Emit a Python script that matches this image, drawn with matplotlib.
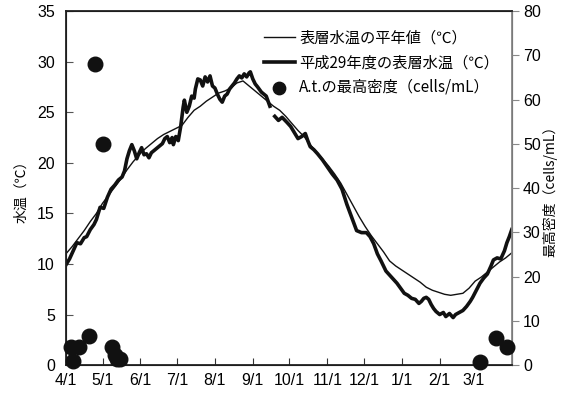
import numpy as np
import matplotlib
matplotlib.use("Agg")
import matplotlib.pyplot as plt

plt.rcParams['font.family'] = ['Liberation Sans', 'Noto Sans CJK JP']
JP = ['Noto Sans CJK JP', 'DejaVu Sans']

# days counted from 4/1
month_days = [0, 30, 61, 91, 122, 153, 183, 214, 244, 275, 306, 334]
month_labels = ['4/1', '5/1', '6/1', '7/1', '8/1', '9/1', '10/1', '11/1', '12/1', '1/1', '2/1', '3/1']

# normal-year surface water temperature
avg_day = [0, 5, 10, 15, 20, 25, 30, 35, 40, 45, 50, 55, 60, 65, 70, 75, 80, 85, 90, 95,
           100, 105, 110, 115, 120, 125, 130, 135, 140, 145, 150, 155, 160, 165, 170, 175,
           180, 185, 190, 195, 200, 205, 210, 215, 220, 225, 230, 235, 240, 245, 250, 255,
           260, 265, 270, 275, 280, 285, 290, 295, 300, 305, 310, 315, 320, 325, 330, 335,
           340, 345, 350, 355, 360, 365]
avg_temp = [11.0, 11.7, 12.5, 13.3, 14.2, 15.0, 16.0, 16.8, 17.6, 18.4, 19.3, 20.1, 20.8,
            21.4, 21.9, 22.4, 22.8, 23.1, 23.4, 23.7, 24.5, 25.2, 25.6, 26.1, 26.5, 26.9,
            27.1, 27.4, 27.9, 28.1, 27.6, 27.1, 26.6, 26.1, 25.6, 25.2, 24.6, 23.9, 23.2,
            22.6, 21.8, 21.1, 20.4, 19.7, 18.9, 18.0, 16.9, 15.8, 14.7, 13.7, 12.8, 12.0,
            11.2, 10.3, 9.8, 9.4, 9.0, 8.6, 8.2, 7.7, 7.4, 7.2, 7.0, 6.9, 7.0, 7.1, 7.6,
            8.3, 8.7, 9.2, 9.7, 10.2, 10.6, 11.1]

# H29 surface water temperature (gap = missing data)
h29_day = [0, 3, 6, 9, 12, 15, 17, 20, 23, 25, 28, 31, 34, 37, 40, 43, 46, 48, 50, 52, 54,
           56, 58, 60, 62, 64, 66, 68, 70, 73, 76, 79, 81, 83, 85, 87, 88, 90, 92, 94, 96,
           97, 99, 101, 103, 105, 106, 108, 110, 112, 114, 116, 118, 120, 122, 124, 126,
           128, 130, 132, 134, 136, 138, 140, 142, 144, 146, 148, 150, 151, 153, 155, 157,
           160, 164, 167, 169, 171, 174, 177, 181, 184, 187, 190, 193, 196, 198, 200, 203,
           206, 210, 214, 218, 222, 226, 230, 234, 238, 242, 246, 249, 252, 255, 258, 262,
           265, 268, 271, 274, 277, 280, 283, 286, 289, 291, 293, 295, 297, 299, 301, 303,
           306, 309, 311, 314, 317, 319, 322, 325, 328, 331, 333, 336, 339, 342, 345, 348,
           350, 353, 356, 359, 361, 363, 365]
h29_temp = [9.9, 10.5, 11.3, 12.1, 12.0, 12.6, 12.7, 13.4, 13.9, 14.4, 15.6, 15.5, 16.6,
            17.4, 17.8, 18.3, 18.6, 19.2, 20.4, 21.2, 21.8, 21.2, 20.4, 21.0, 21.5, 20.8,
            20.9, 20.5, 21.0, 21.3, 21.6, 21.9, 22.4, 22.6, 22.0, 22.5, 21.8, 22.6, 22.2,
            23.6, 25.5, 26.2, 25.0, 25.6, 26.6, 26.4, 27.3, 28.3, 28.2, 27.6, 28.5, 28.0,
            28.6, 27.6, 27.4, 26.8, 26.3, 26.0, 26.6, 26.8, 27.3, 27.6, 27.9, 28.3, 28.6,
            28.4, 28.8, 28.5, 28.9, 29.0, 28.3, 27.8, 27.5, 27.0, 26.6, 25.6, np.nan, 24.6,
            24.2, 24.5, 24.0, 23.6, 23.0, 22.4, 22.6, 22.9, 22.2, 21.6, 21.3, 20.9, 20.3,
            19.6, 18.9, 18.3, 17.4, 15.9, 14.6, 13.3, 13.1, 13.1, 12.7, 12.0, 11.0, 10.3,
            9.3, 8.9, 8.5, 8.1, 7.6, 7.1, 6.9, 6.6, 6.5, 6.1, 6.3, 6.6, 6.7, 6.5, 6.0, 5.6,
            5.3, 5.0, 5.2, 4.8, 5.1, 4.7, 5.0, 5.2, 5.4, 5.8, 6.3, 6.7, 7.4, 8.1, 8.6, 9.0,
            9.8, 10.4, 10.6, 10.5, 11.3, 12.1, 12.7, 13.4]

# maximum A.t. density (cells/mL)
at_day = [4, 6, 11, 19, 24, 30, 38, 40, 42, 44, 339, 352, 361]
at_density = [4, 1, 4, 6.5, 68, 50, 4, 2.3, 1.4, 1.4, 0.7, 6.1, 4.1]

fig, ax = plt.subplots(figsize=(5.63, 3.99), dpi=100)
fig.subplots_adjust(left=0.117, right=0.909, bottom=0.085, top=0.972)
ax2 = ax.twinx()

l1, = ax.plot(avg_day, avg_temp, color='#111111', lw=1.0, label='表層水温の平年値（℃）')
l2, = ax.plot(h29_day, h29_temp, color='#111111', lw=2.6, label='平成29年度の表層水温（℃）')
sc = ax2.scatter(at_day, at_density, s=110, color='#111111', clip_on=False, zorder=5,
                 label='A.t.の最高密度（cells/mL）')

ax.set_xlim(0, 365)
ax.set_ylim(0, 35)
ax2.set_ylim(0, 80)
ax.set_xticks(month_days)
ax.set_xticklabels(month_labels)
ax.set_yticks(range(0, 36, 5))
ax2.set_yticks(range(0, 81, 10))

ax.tick_params(axis='x', direction='in', length=5, labelsize=11.5, pad=6, color='#333333')
ax.tick_params(axis='y', direction='in', length=5, labelsize=11.5, pad=8, color='#555555')
ax2.tick_params(axis='y', direction='out', length=5, labelsize=11.5, pad=3, color='#888888')

for s in ['left', 'top', 'bottom']:
    ax2.spines[s].set_color('#222222')
    ax2.spines[s].set_linewidth(1.3)
ax2.spines['right'].set_color('#888888')
ax2.spines['right'].set_linewidth(1.3)

ax.set_ylabel('水温（℃）', family=JP, fontsize=10, labelpad=6)
ax2.set_ylabel('最高密度（cells/mL）', family=JP, fontsize=10, labelpad=1)

leg = ax2.legend([l1, l2, sc], [l1.get_label(), l2.get_label(), sc.get_label()],
                 loc='upper right', bbox_to_anchor=(0.985, 0.965), borderaxespad=0,
                 frameon=False, prop={'family': JP, 'size': 11}, handlelength=2.0,
                 labelspacing=0.5, handletextpad=0.3, markerscale=0.85)

fig.savefig('out.png', dpi=100)
